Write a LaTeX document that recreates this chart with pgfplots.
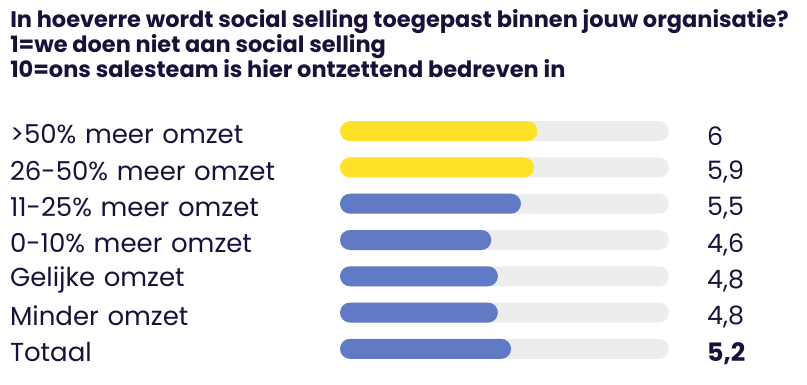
\documentclass[border=0pt]{standalone}
\usepackage{pgfplots}
\pgfplotsset{compat=1.18}
\usepackage{fontspec}
\setmainfont{Poppins}
\definecolor{ink}{RGB}{26,16,58}
\definecolor{ybar}{RGB}{255,226,39}
\definecolor{bbar}{RGB}{96,122,198}
\definecolor{track}{RGB}{237,237,237}
\begin{document}
\begin{tikzpicture}
\path[use as bounding box] (0pt,0pt) rectangle (605.25pt,288.75pt);
\tikzset{ttl/.style={anchor=base west,font=\bfseries\fontsize{16.85}{18}\selectfont,text=ink,inner sep=0pt}}
\node[ttl] at (7.5pt,267.75pt) {In hoeverre wordt social selling toegepast binnen jouw organisatie?};
\node[ttl] at (7.5pt,249pt) {1=we doen niet aan social selling};
\node[ttl] at (7.5pt,230.25pt) {10=ons salesteam is hier ontzettend bedreven in};
\begin{axis}[
  at={(255pt,13.5pt)}, anchor=south west,
  scale only axis, width=246.75pt, height=190.5pt,
  xmin=0, xmax=10, ymin=-0.5, ymax=6.5, y dir=reverse,
  axis line style={draw=none}, tick style={draw=none},
  xtick=\empty,
  ytick={0,...,6},
  yticklabels={{>50\% meer omzet},{26-50\% meer omzet},{11-25\% meer omzet},{0-10\% meer omzet},{Gelijke omzet},{Minder omzet},{Totaal}},
  yticklabel style={font=\fontsize{19.5}{21}\selectfont,text=ink,text width=243pt,align=left,inner sep=0pt,yshift=-2.5pt},
  xbar, bar width=15pt, bar shift=0pt,
  clip=false,
]
\addplot[fill=track,draw=none,rounded corners=7.5pt] coordinates {(10,0) (10,1) (10,2) (10,3) (10,4) (10,5) (10,6)};
\addplot[fill=ybar,draw=none,rounded corners=7.5pt] coordinates {(6,0) (5.9,1)};
\addplot[fill=bbar,draw=none,rounded corners=7.5pt] coordinates {(5.5,2) (4.6,3) (4.8,4) (4.8,5) (5.2,6)};
\addplot[draw=none,fill=none,point meta=explicit symbolic,
  nodes near coords,
  every node near coord/.style={anchor=west,font=\fontsize{19}{21}\selectfont,text=ink,inner sep=0pt,yshift=-3.5pt}]
  coordinates {(11.15,0) [6] (11.15,1) [5,9] (11.15,2) [5,5] (11.15,3) [4,6] (11.15,4) [4,8] (11.15,5) [4,8] (11.15,6) [\textbf{5,2}]};
\end{axis}
\end{tikzpicture}
\end{document}
